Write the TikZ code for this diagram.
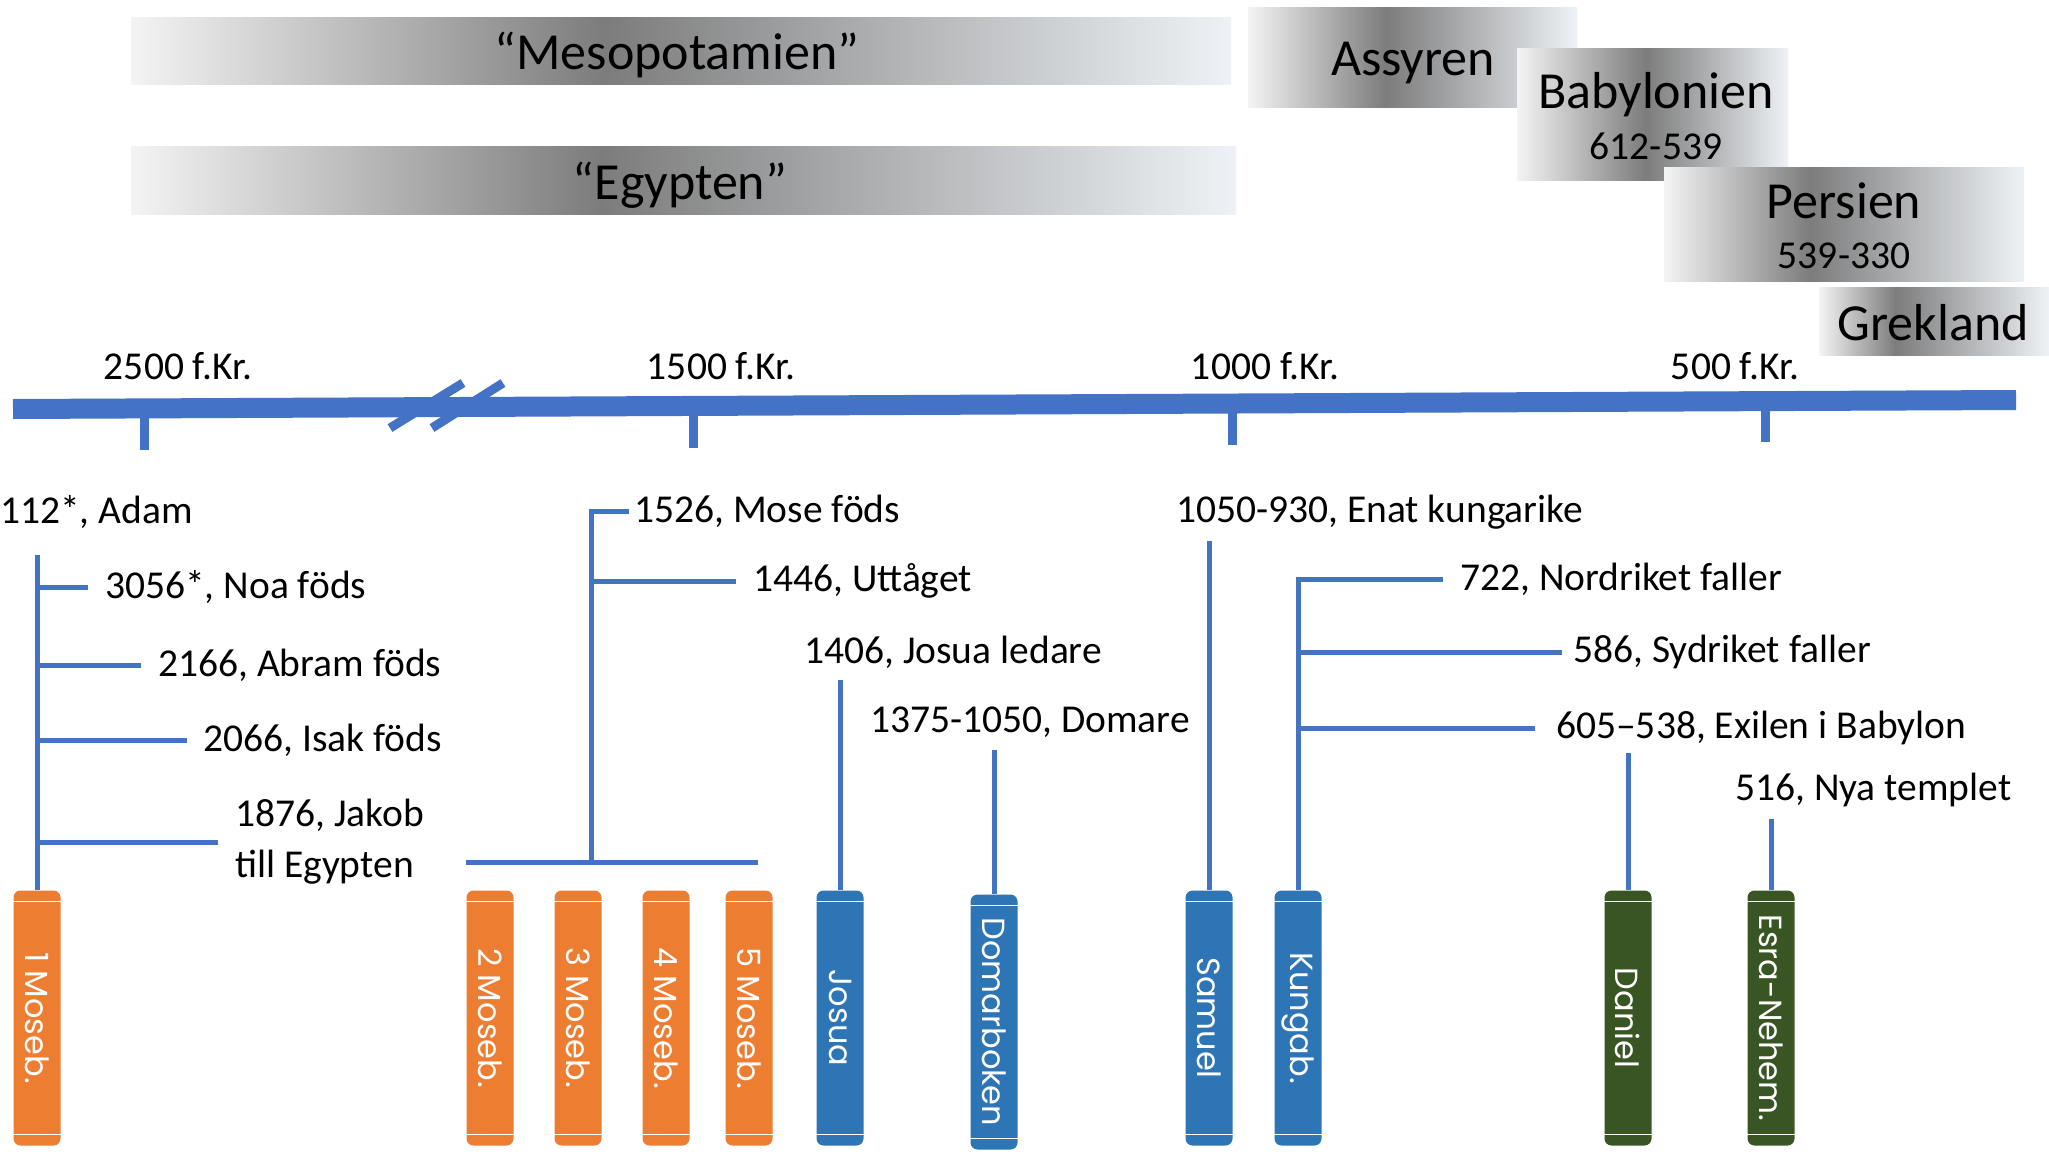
\documentclass[tikz,border=0pt]{standalone}
\usepackage{fontspec}
\setmainfont{Carlito}
\newfontfamily\bookfont{Poppins}
\usepackage{graphicx}
\definecolor{lineblue}{HTML}{4472C4}
\definecolor{bookor}{HTML}{ED7D31}
\definecolor{bookbl}{HTML}{2E75B6}
\definecolor{bookgr}{HTML}{3A5524}
\definecolor{gL}{HTML}{F4F4F4}
\definecolor{gM}{HTML}{7C7C7C}
\definecolor{gR}{HTML}{EEF2F6}
\newcommand\mybar[5]{%
  \shade[left color=gL,right color=gM] (#1,#2) rectangle (#3+1,#5);
  \shade[left color=gM,right color=gR] (#3,#2) rectangle (#4,#5);}
\tikzset{
  conn/.style={draw=lineblue, line width=5pt},
  evt/.style={anchor=west, inner sep=0pt, font=\fontsize{39.5}{51}\selectfont, align=left},
  yr/.style={inner sep=0pt, font=\fontsize{39.5}{46}\selectfont},
  big/.style={inner sep=0pt, font=\fontsize{52}{60}\selectfont},
  sub/.style={inner sep=0pt, font=\fontsize{39.5}{46}\selectfont},
  book/.style={rectangle, rounded corners=7pt, minimum width=47pt, minimum height=255pt,
    inner sep=0pt, text=white, font=\bookfont\fontsize{32}{38}\selectfont},
}
\begin{document}
\begin{tikzpicture}[x=1pt,y=-1pt]
\useasboundingbox (0,0) rectangle (2049,1151);
% kingdom bars
\mybar{131}{17}{604}{1231}{84}
\node[big] (meso) at (677,55) {“Mesopotamien”};
\mybar{131}{146}{600}{1236}{214}
\node[big] (egy) at (680,185) {“Egypten”};
\mybar{1248}{7}{1385}{1577}{107}
\node[big] (ass) at (1413,63) {Assyren};
\mybar{1517}{48}{1645}{1788}{180}
\node[big] (bab) at (1656,95) {Babylonien};
\node[sub] (babd) at (1656,146) {612-539};
\mybar{1664}{167}{1810}{2024}{281}
\node[big] (per) at (1844,201) {Persien};
\node[sub] (perd) at (1844,256) {539-330};
\mybar{1819}{287}{1895}{2049}{355}
\node[big] (gre) at (1933,323) {Grekland};
% year labels
\node[yr] (y2500) at (178,366) {2500 f.Kr.};
\node[yr] (y1500) at (721,366) {1500 f.Kr.};
\node[yr] (y1000) at (1265,366) {1000 f.Kr.};
\node[yr] (y500) at (1735,366) {500 f.Kr.};
% timeline
\draw[lineblue, line width=20pt] (13,409) -- (2016,400);
\draw[lineblue, line width=9pt] (144,408) -- (144,450);
\draw[lineblue, line width=9pt] (693,406) -- (693,448);
\draw[lineblue, line width=9pt] (1232,404) -- (1232,445);
\draw[lineblue, line width=9pt] (1765,401) -- (1765,442);
\foreach \a/\b in {390/463,432/503}{
  \draw[lineblue, line width=9pt] (\a,428) -- (\b,383);
}
% event labels
\node[evt] (adam) at (0,512) {112*, Adam};
\node[evt] (noa) at (105,587) {3056*, Noa föds};
\node[evt] (abram) at (158,665) {2166, Abram föds};
\node[evt] (isak) at (203,740) {2066, Isak föds};
\node[evt] (jakob) at (235,842) {1876, Jakob\\till Egypten};
\node[evt] (mose) at (634,511) {1526, Mose föds};
\node[evt] (utt) at (753,581) {1446, Uttåget};
\node[evt] (jos) at (804,652) {1406, Josua ledare};
\node[evt] (dom) at (870,722) {1375-1050, Domare};
\node[evt] (enat) at (1176,512) {1050-930, Enat kungarike};
\node[evt] (nord) at (1460,579) {722, Nordriket faller};
\node[evt] (syd) at (1573,652) {586, Sydriket faller};
\node[evt] (exil) at (1556,728) {605–538, Exilen i Babylon};
\node[evt] (nya) at (1735,790) {516, Nya templet};
% books
\node[book, fill=bookor] (b1) at (37,1018) {\rotatebox{-90}{1 Moseb.}};
\node[book, fill=bookor] (b2) at (490,1018) {\rotatebox{-90}{2 Moseb.}};
\node[book, fill=bookor] (b3) at (578,1018) {\rotatebox{-90}{3 Moseb.}};
\node[book, fill=bookor] (b4) at (666,1018) {\rotatebox{-90}{4 Moseb.}};
\node[book, fill=bookor] (b5) at (749,1018) {\rotatebox{-90}{5 Moseb.}};
\node[book, fill=bookbl] (josua) at (840,1018) {\rotatebox{-90}{Josua}};
\node[book, fill=bookbl] (domar) at (994,1022) {\rotatebox{-90}{Domarboken}};
\node[book, fill=bookbl] (samuel) at (1209,1018) {\rotatebox{-90}{Samuel}};
\node[book, fill=bookbl] (kung) at (1298,1018) {\rotatebox{-90}{Kungab.}};
\node[book, fill=bookgr] (daniel) at (1628,1018) {\rotatebox{-90}{Daniel}};
\node[book, fill=bookgr] (esra) at (1771,1018) {\rotatebox{-90}{Esra-Nehem.}};
\foreach \b in {b1,b2,b3,b4,b5,josua,domar,samuel,kung,daniel,esra}{
  \draw[white, line width=1.2pt] ([yshift=-11pt]\b.north west) -- ([yshift=-11pt]\b.north east);
  \draw[white, line width=1.2pt] ([yshift=11pt]\b.south west) -- ([yshift=11pt]\b.south east);
}
% connectors: Genesis
\coordinate (gtop) at (37,555);
\draw[conn] (gtop) -- (b1.north);
\draw[conn] (gtop |- noa.west) -- ([xshift=-17pt]noa.west);
\draw[conn] (gtop |- abram.west) -- ([xshift=-17pt]abram.west);
\draw[conn] (gtop |- isak.west) -- ([xshift=-16pt]isak.west);
\draw[conn] (gtop |- jakob.west) -- ([xshift=-17pt]jakob.west);
% Moses
\coordinate (mh) at (591,862);
\coordinate (mhl) at (466,862);
\coordinate (mhr) at (758,862);
\draw[conn] (mhl) -- (mhr);
\draw[conn] (mh) |- ([xshift=-5pt]mose.west);
\draw[conn] (mh |- utt.west) -- ([xshift=-17pt]utt.west);
% single books
\coordinate (jtop) at (840,680);
\draw[conn] (jtop) -- (josua.north);
\coordinate (dtop) at (994,750);
\draw[conn] (dtop) -- (domar.north);
\coordinate (stop) at (1209,541);
\draw[conn] (stop) -- (samuel.north);
\draw[conn] (kung.north) |- ([xshift=-17pt]nord.west);
\draw[conn] (kung.north |- syd.west) -- ([xshift=-11pt]syd.west);
\draw[conn] (kung.north |- exil.west) -- ([xshift=-21pt]exil.west);
\coordinate (dntop) at (1628,753);
\draw[conn] (dntop) -- (daniel.north);
\coordinate (etop) at (1771,819);
\draw[conn] (etop) -- (esra.north);
\end{tikzpicture}
\end{document}
